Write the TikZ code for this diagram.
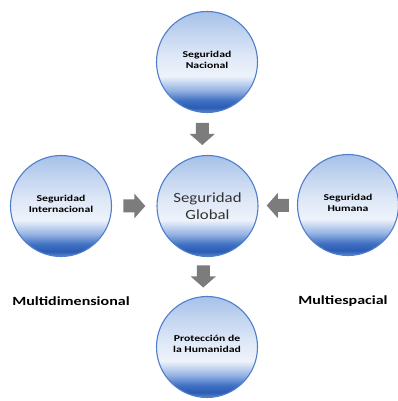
\documentclass[tikz,border=0pt]{standalone}
\usepackage{fontspec}
\setmainfont{Carlito}
\newfontfamily\circfnt[FakeStretch=1.3]{Carlito}
\newfontfamily\globfnt[FakeStretch=1.2]{Carlito}
\newfontfamily\labfnt[FakeStretch=1.28]{Carlito}
\usetikzlibrary{calc}
\definecolor{ballrim}{HTML}{4F7FCC}
\definecolor{arrowfill}{HTML}{7C7C7C}
\definecolor{globtext}{HTML}{333333}
\definecolor{sA}{HTML}{5A88D2}
\definecolor{sB}{HTML}{2B5CB2}
\definecolor{sC}{HTML}{3F70C3}
\definecolor{sD}{HTML}{94B2E2}
\definecolor{sE}{HTML}{EEF3FB}
\definecolor{sF}{HTML}{E0E9F7}
\definecolor{sG}{HTML}{C6D7F1}
\definecolor{sH}{HTML}{A6C1E9}
\pgfdeclareverticalshading{ballshade}{100bp}{color(0bp)=(sA); color(25bp)=(sA); color(27.5bp)=(sB); color(31bp)=(sC); color(36bp)=(sD); color(43bp)=(sE); color(52bp)=(sF); color(63bp)=(sG); color(75bp)=(sH); color(100bp)=(sH)}
\tikzset{
  ball/.style={circle, minimum size=101pt, inner sep=0pt, draw=ballrim, line width=1.1pt, shading=ballshade, align=center},
  smalltxt/.style={font={\circfnt\bfseries\fontsize{9}{10.5}\selectfont}, text=black},
  bigtxt/.style={font={\globfnt\fontsize{14}{17}\selectfont}, text=globtext},
  sidelabel/.style={font={\labfnt\bfseries\fontsize{12.5}{14}\selectfont}, text=black},
  blockarr/.pic={\fill[arrowfill] (-11,-6.5) -- (0,-6.5) -- (0,-12.5) -- (11,0) -- (0,12.5) -- (0,6.5) -- (-11,6.5) -- cycle;}
}
\begin{document}
\begin{tikzpicture}[x=1pt,y=1pt]
\fill[white] (0,0) rectangle (397,401);
\useasboundingbox (0,0) rectangle (397,401);
\node[ball] (nac) at (207,339) {};
\node[smalltxt, align=center] (nactxt) at (207,341) {Seguridad\\Nacional};
\node[ball] (glob) at (207.5,195) {};
\node[bigtxt, align=center] (globtxt) at (207.5,195) {Seguridad\\Global};
\node[ball] (inter) at (61,195) {};
\node[smalltxt, align=center] (intertxt) at (61,197) {Seguridad\\Internacional};
\node[ball] (hum) at (348,196) {};
\node[smalltxt, align=center] (humtxt) at (348,198) {Seguridad\\Humana};
\node[ball] (prot) at (207,54) {};
\node[smalltxt, align=center] (prottxt) at (207,57) {Protección de\\la Humanidad};
\node[sidelabel] (multid) at (71,100) {Multidimensional};
\node[sidelabel] (multie) at (343,100) {Multiespacial};
\pic[rotate=-90] at ($(nac.south)!.5!(glob.north)+(-5,0)$) {blockarr};
\pic at ($(inter.east)!.5!(glob.west)$) {blockarr};
\pic[rotate=180] at ($(glob.east)!.5!(hum.west)$) {blockarr};
\pic[rotate=-90] at ($(glob.south)!.5!(prot.north)+(-4,0)$) {blockarr};
\end{tikzpicture}
\end{document}
